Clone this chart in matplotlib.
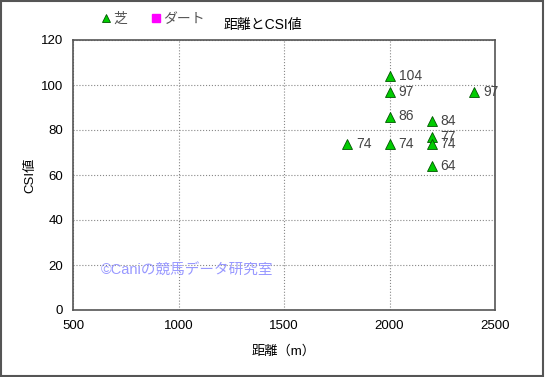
import matplotlib
matplotlib.use("Agg")
import matplotlib.pyplot as plt
from matplotlib.patches import Rectangle

plt.rcParams['font.family'] = ['Liberation Sans', 'Noto Sans CJK JP', 'DejaVu Sans']

# 芝 data: distance (m), CSI value
turf_dist = [1800, 2000, 2000, 2000, 2000, 2200, 2200, 2200, 2200, 2400]
turf_csi = [74, 104, 97, 86, 74, 84, 77, 74, 64, 97]
# ダート data: none in this chart
dirt_dist = []
dirt_csi = []

fig = plt.figure(figsize=(5.45, 3.77), dpi=100)
ax = fig.add_axes([73 / 545, 67 / 377, 422 / 545, 270 / 377])

ax.plot(turf_dist, turf_csi, linestyle='none', marker='^', ms=7.5,
        mfc='#00cc00', mec='#005500', mew=0.6, label='芝', zorder=3)
ax.plot(dirt_dist, dirt_csi, linestyle='none', marker='s', ms=6,
        mfc='#ff00ff', mec='#ff00ff', label='ダート', zorder=3)

for x, y in zip(turf_dist, turf_csi):
    ax.annotate(str(y), (x, y), xytext=(6.5, 0), textcoords='offset points',
                va='center', ha='left', fontsize=10, color='#444444')

ax.set_xlim(500, 2500)
ax.set_ylim(0, 120)
ax.set_xticks([500, 1000, 1500, 2000, 2500])
ax.set_yticks([0, 20, 40, 60, 80, 100, 120])
ax.tick_params(length=0, labelsize=9.5, pad=7)
ax.grid(True, linestyle=':', color='#888888', linewidth=0.8)
for s in ax.spines.values():
    s.set_color('#555555')
    s.set_linewidth(1.2)

ax.set_xlabel('距離（m）', fontsize=9.5, labelpad=10)
ax.set_ylabel('CSI値', fontsize=9.5, labelpad=3)

fig.text(263 / 545, 1 - 25 / 377, '距離とCSI値', ha='center', va='center', fontsize=10)
ax.text(0.065, 0.145, '©Caniの競馬データ研究室', transform=ax.transAxes,
        fontsize=10.5, color='#9999ff', va='center')

leg = fig.legend(loc='center left', bbox_to_anchor=(87 / 545, 1 - 19 / 377), ncol=2,
                 frameon=False, handletextpad=0.0, columnspacing=1.6,
                 fontsize=10, handlelength=1.0, markerscale=0.85)
for t in leg.get_texts():
    t.set_color('#555555')

fig.patches.append(Rectangle((0.002, 0.003), 0.995, 0.994, transform=fig.transFigure,
                             fill=False, edgecolor='#555555', linewidth=1.5))

fig.savefig('out.png', dpi=100)
